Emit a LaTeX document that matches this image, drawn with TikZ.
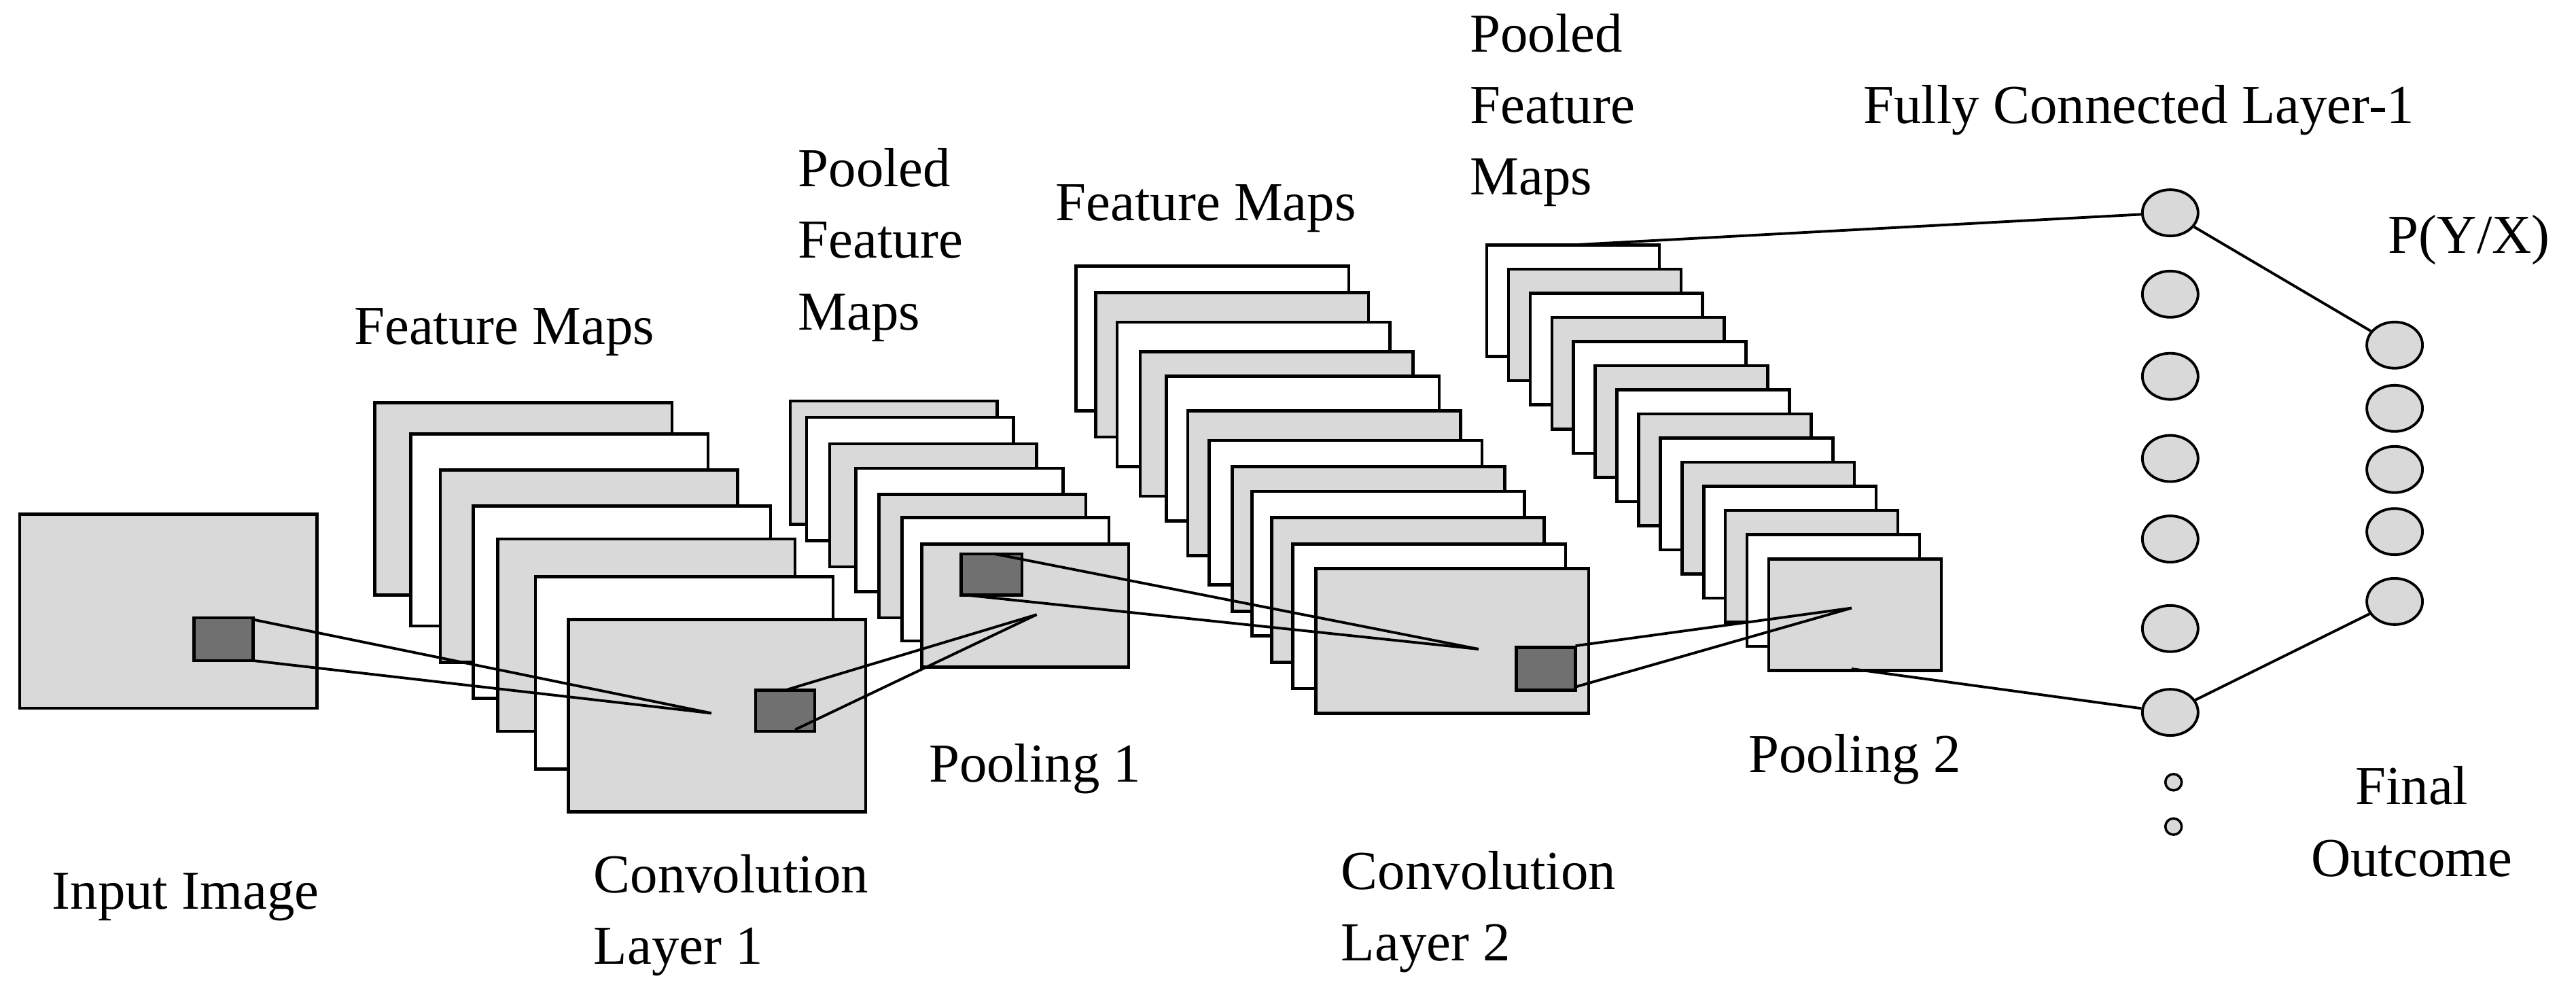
\documentclass[tikz,border=0pt]{standalone}
\usepackage{fontspec}
\setmainfont{Liberation Serif}
\usetikzlibrary{shapes.geometric}
\definecolor{lg}{RGB}{217,217,217}
\definecolor{dg}{RGB}{112,112,112}
\begin{document}
\begin{tikzpicture}[x=0.02418cm,y=-0.02418cm,
  map/.style={draw=black,line width=1.3pt},
  sq/.style={draw=black,fill=dg,line width=1.3pt},
  conn/.style={draw=black,line width=1.1pt},
  neuron/.style={ellipse,draw=black,fill=lg,line width=1.1pt,minimum width=0.82cm,minimum height=0.68cm,inner sep=0pt},
  dot/.style={circle,draw=black,fill=lg,line width=1pt,minimum size=0.24cm,inner sep=0pt},
  lbl/.style={font=\fontsize{23}{30}\selectfont,align=left,inner sep=0pt},
  lblc/.style={font=\fontsize{23}{30}\selectfont,align=center,inner sep=0pt}]
\useasboundingbox (0,0) rectangle (1568,604);
% input image
\draw[map,fill=lg] (12,313) rectangle (193,431);
\draw[sq] (118,376) rectangle (154,402);
\coordinate (inTR) at (154,377);
\coordinate (inBR) at (154,402);
% conv 1 feature maps
\foreach \x/\y/\c in {228/245/lg,250/264/white,268/286/lg,288/308/white,303/328/lg,326/351/white,346/377/lg}
  \draw[map,fill=\c] (\x,\y) rectangle ++(181,117);
\draw[sq] (460,420) rectangle (496,445);
\coordinate (c1p) at (433,434);
\coordinate (c1T) at (478,420);
\coordinate (c1B) at (484,444);
% pool 1
\foreach \x/\y/\c in {481/244/lg,491/254/white,505/270/lg,521/285/white,535/301/lg,549/315/white,561/331/lg}
  \draw[map,fill=\c] (\x,\y) rectangle ++(126,75);
\draw[sq] (585,337) rectangle (622,362);
\coordinate (p1p) at (631,374);
\coordinate (p1T) at (605,337);
\coordinate (p1B) at (587,362);
% conv 2
\foreach \x/\y/\c in {655/162/white,667/178/lg,680/196/white,694/214/lg,710/229/white,723/250/lg,736/268/white,750/284/lg,762/299/white,774/315/lg,787/331/white,801/346/lg}
  \draw[map,fill=\c] (\x,\y) rectangle ++(166,88);
\draw[sq] (923,394) rectangle (959,420);
\coordinate (c2p) at (900,395);
\coordinate (c2T) at (959,393);
\coordinate (c2B) at (959,418);
% pool 2
\foreach \i in {0,...,13}{
  \pgfmathsetmacro{\xx}{905+13.2*\i}
  \pgfmathsetmacro{\yy}{149+14.7*\i}
  \pgfmathparse{mod(\i,2)==0?"white":"lg"}
  \edef\cc{\pgfmathresult}
  \draw[map,fill=\cc] (\xx,\yy) rectangle ++(105,68);
}
\coordinate (p2p) at (1127,370);
\coordinate (p2top) at (958,149);
\coordinate (p2bot) at (1127,407);
% connectors
\draw[conn] (inTR) -- (c1p);
\draw[conn] (inBR) -- (c1p);
\draw[conn] (c1T) -- (p1p);
\draw[conn] (c1B) -- (p1p);
\draw[conn] (p1T) -- (c2p);
\draw[conn] (p1B) -- (c2p);
\draw[conn] (c2T) -- (p2p);
\draw[conn] (c2B) -- (p2p);
% FC layer
\foreach \n/\y in {1/129.5,2/179,3/229,4/279,5/328,6/382.5,7/433.5}
  \node[neuron] (f\n) at (1321,\y) {};
\node[dot] (d1) at (1323,476) {};
\node[dot] (d2) at (1323,503) {};
\foreach \n/\y in {1/210,2/248.5,3/285.7,4/323.5,5/366}
  \node[neuron] (o\n) at (1457.6,\y) {};
\draw[conn] (p2top) -- (f1);
\draw[conn] (p2bot) -- (f7);
\draw[conn] (f1) -- (o1);
\draw[conn] (f7) -- (o5);
% labels
\node[lbl] (t1) at (113,546) {Input Image};
\node[lbl] (t2) at (445,557) {Convolution\\Layer 1};
\node[lbl] (t3) at (307,202) {Feature Maps};
\node[lbl] (t4) at (536,149) {Pooled\\Feature\\Maps};
\node[lbl] (t5) at (630,468) {Pooling 1};
\node[lbl] (t6) at (734,127) {Feature Maps};
\node[lbl] (t7) at (900,555) {Convolution\\Layer 2};
\node[lbl] (t8) at (945,67) {Pooled\\Feature\\Maps};
\node[lbl] (t9) at (1129,462) {Pooling 2};
\node[lbl] (t10) at (1302,67) {Fully Connected Layer-1};
\node[lbl] (t11) at (1503,146) {P(Y/X)};
\node[lblc] (t12) at (1468,500) {Final\\Outcome};
\end{tikzpicture}
\end{document}
